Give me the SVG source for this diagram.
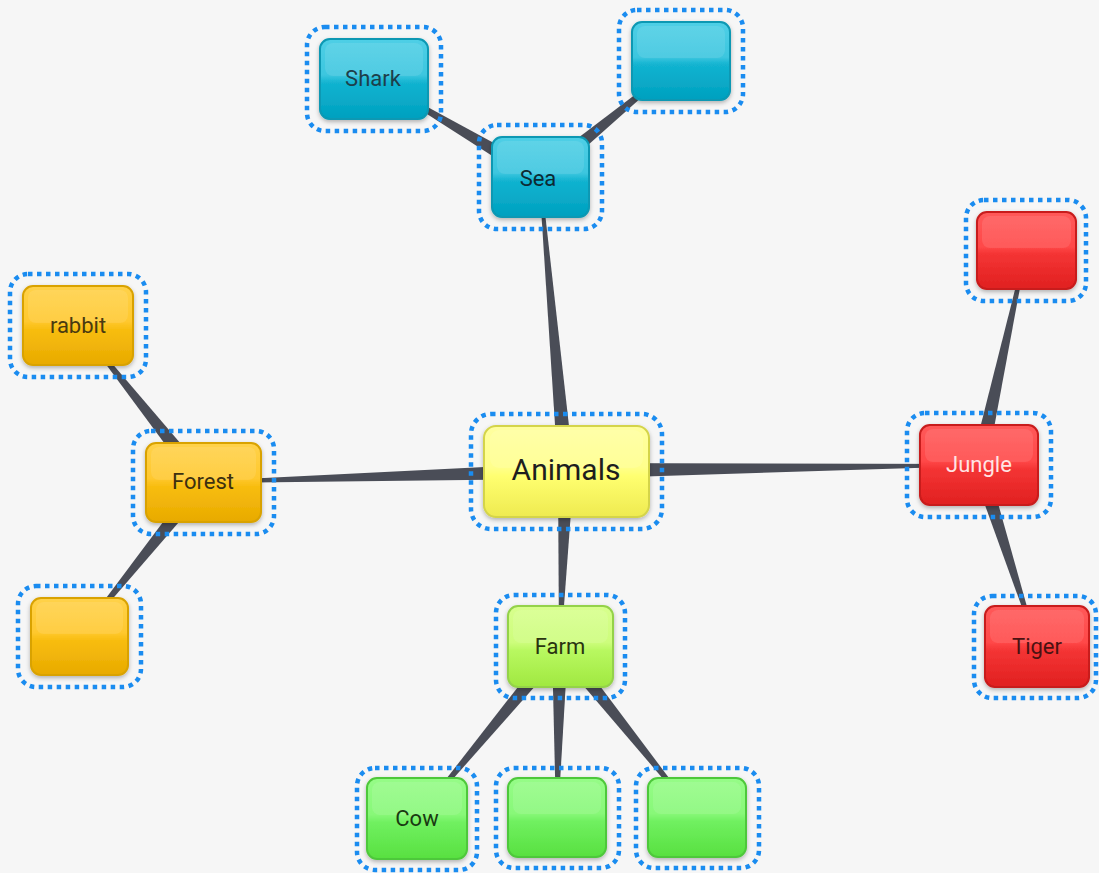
<svg xmlns="http://www.w3.org/2000/svg" width="1099" height="873" viewBox="0 0 1099 873">
<defs>
<style>
.dot{fill:none;stroke:#1a8cf0;stroke-width:4.5;stroke-dasharray:4.5 4.5}
.hl{fill:#ffffff;opacity:0.1}
.lbl{font-family:Roboto,"Liberation Sans",sans-serif;font-size:22px;text-anchor:middle}
.conn{fill:#4a4d57}
</style>
<filter id="sh" x="-20%" y="-20%" width="140%" height="150%"><feDropShadow dx="0" dy="2" stdDeviation="2" flood-color="#000" flood-opacity="0.28"/></filter>
<linearGradient id="gc" x1="0" y1="0" x2="0" y2="1"><stop offset="0" stop-color="#4fcfe6"/><stop offset="0.45" stop-color="#3cc6df"/><stop offset="0.55" stop-color="#12b3d0"/><stop offset="1" stop-color="#00a0bf"/></linearGradient>
<linearGradient id="gy" x1="0" y1="0" x2="0" y2="1"><stop offset="0" stop-color="#ffffa0"/><stop offset="0.45" stop-color="#ffff8c"/><stop offset="0.55" stop-color="#ffff70"/><stop offset="1" stop-color="#eeea50"/></linearGradient>
<linearGradient id="go" x1="0" y1="0" x2="0" y2="1"><stop offset="0" stop-color="#ffd24a"/><stop offset="0.45" stop-color="#ffc82e"/><stop offset="0.55" stop-color="#f8bd10"/><stop offset="1" stop-color="#e8aa00"/></linearGradient>
<linearGradient id="gr" x1="0" y1="0" x2="0" y2="1"><stop offset="0" stop-color="#ff5a5a"/><stop offset="0.45" stop-color="#ff4848"/><stop offset="0.55" stop-color="#f43434"/><stop offset="1" stop-color="#e02020"/></linearGradient>
<linearGradient id="gl" x1="0" y1="0" x2="0" y2="1"><stop offset="0" stop-color="#d8ff8e"/><stop offset="0.45" stop-color="#cdfd7c"/><stop offset="0.55" stop-color="#b8f860"/><stop offset="1" stop-color="#a0e840"/></linearGradient>
<linearGradient id="gg" x1="0" y1="0" x2="0" y2="1"><stop offset="0" stop-color="#96fc88"/><stop offset="0.45" stop-color="#88f878"/><stop offset="0.55" stop-color="#70f060"/><stop offset="1" stop-color="#58e040"/></linearGradient>
</defs>
<rect width="1099" height="873" fill="#f6f6f6"/>
<g id="connectors">
<polygon class="conn" points="573.97,470.30 541.0,176.91 539.0,177.09 558.03,471.70"/>
<polygon class="conn" points="565.76,463.0 202.97,481.0 203.03,483.0 566.24,479.0"/>
<polygon class="conn" points="566.12,479.0 979.01,466 978.99,464 565.88,463.0"/>
<polygon class="conn" points="558,470.73 559,645.97 561,646.03 574,471.27"/>
<polygon class="conn" points="544.07,170.11 374.51,78.14 373.49,79.86 535.93,183.89"/>
<polygon class="conn" points="545.08,183.18 681.64,61.77 680.36,60.23 534.92,170.82"/>
<polygon class="conn" points="209.26,477.02 78.78,324.38 77.22,325.62 196.74,486.98"/>
<polygon class="conn" points="196.77,476.98 78.22,635.37 79.78,636.63 209.23,487.02"/>
<polygon class="conn" points="986.82,466.71 1026.98,250.21 1025.02,249.79 971.18,463.29"/>
<polygon class="conn" points="971.38,467.44 1036.05,646.31 1037.95,645.69 986.62,462.56"/>
<polygon class="conn" points="553.85,640.89 416.23,817.36 417.77,818.64 566.15,651.11"/>
<polygon class="conn" points="552,645.86 556,816.98 558,817.02 568,646.14"/>
<polygon class="conn" points="553.76,651.0 696.22,817.63 697.78,816.37 566.24,641.0"/>
</g>
<g id="animals">
<rect class="dot" x="471" y="414" width="191" height="115" rx="20"/>
<rect x="484" y="426" width="165" height="91" rx="12" fill="url(#gy)" stroke="#d4d44a" stroke-width="2" filter="url(#sh)"/>
<rect class="hl" x="490" y="430" width="153" height="38" rx="9"/>
<text x="566" y="480" font-family="Roboto,'Liberation Sans',sans-serif" font-size="30" text-anchor="middle" fill="#1e1e1e">Animals</text>
</g>
<g id="sea">
<rect class="dot" x="479" y="125" width="123" height="104" rx="18"/>
<rect x="492" y="137" width="97" height="80" rx="10" fill="url(#gc)" stroke="#0898b3" stroke-width="2" filter="url(#sh)"/>
<rect class="hl" x="497" y="141" width="87" height="33" rx="8"/>
<text class="lbl" x="538" y="186" fill="#0d2a33">Sea</text>
</g>
<g id="shark">
<rect class="dot" x="307" y="27" width="134" height="104" rx="18"/>
<rect x="320" y="39" width="108" height="80" rx="10" fill="url(#gc)" stroke="#0898b3" stroke-width="2" filter="url(#sh)"/>
<rect class="hl" x="325" y="43" width="98" height="33" rx="8"/>
<text class="lbl" x="373" y="86" fill="#1d3f4a">Shark</text>
</g>
<g id="sea-child">
<rect class="dot" x="619" y="10" width="124" height="102" rx="18"/>
<rect x="632" y="22" width="98" height="78" rx="10" fill="url(#gc)" stroke="#0898b3" stroke-width="2" filter="url(#sh)"/>
<rect class="hl" x="637" y="26" width="88" height="32" rx="8"/>
</g>
<g id="forest">
<rect class="dot" x="133" y="431" width="141" height="103" rx="18"/>
<rect x="146" y="443" width="115" height="79" rx="10" fill="url(#go)" stroke="#d9a206" stroke-width="2" filter="url(#sh)"/>
<rect class="hl" x="151" y="447" width="105" height="33" rx="8"/>
<text class="lbl" x="203" y="489" fill="#3d3010">Forest</text>
</g>
<g id="rabbit">
<rect class="dot" x="10" y="274" width="136" height="103" rx="18"/>
<rect x="23" y="286" width="110" height="79" rx="10" fill="url(#go)" stroke="#d9a206" stroke-width="2" filter="url(#sh)"/>
<rect class="hl" x="28" y="290" width="100" height="33" rx="8"/>
<text class="lbl" x="78" y="333" fill="#4a3a10">rabbit</text>
</g>
<g id="forest-child">
<rect class="dot" x="18" y="586" width="123" height="101" rx="18"/>
<rect x="31" y="598" width="97" height="77" rx="10" fill="url(#go)" stroke="#d9a206" stroke-width="2" filter="url(#sh)"/>
<rect class="hl" x="36" y="602" width="87" height="32" rx="8"/>
</g>
<g id="jungle">
<rect class="dot" x="907" y="413" width="144" height="104" rx="18"/>
<rect x="920" y="425" width="118" height="80" rx="10" fill="url(#gr)" stroke="#c81a1a" stroke-width="2" filter="url(#sh)"/>
<rect class="hl" x="925" y="429" width="108" height="33" rx="8"/>
<text class="lbl" x="979" y="472" fill="#ffe4e4">Jungle</text>
</g>
<g id="jungle-child">
<rect class="dot" x="966" y="200" width="120" height="101" rx="18"/>
<rect x="977" y="212" width="99" height="77" rx="10" fill="url(#gr)" stroke="#c81a1a" stroke-width="2" filter="url(#sh)"/>
<rect class="hl" x="982" y="216" width="89" height="32" rx="8"/>
</g>
<g id="tiger">
<rect class="dot" x="974" y="596" width="122" height="102" rx="18"/>
<rect x="985" y="606" width="104" height="81" rx="10" fill="url(#gr)" stroke="#c81a1a" stroke-width="2" filter="url(#sh)"/>
<rect class="hl" x="990" y="610" width="94" height="33" rx="8"/>
<text class="lbl" x="1037" y="654" fill="#4a1212">Tiger</text>
</g>
<g id="farm">
<rect class="dot" x="496" y="595" width="129" height="103" rx="18"/>
<rect x="508" y="606" width="105" height="81" rx="10" fill="url(#gl)" stroke="#94d24a" stroke-width="2" filter="url(#sh)"/>
<rect class="hl" x="513" y="610" width="95" height="33" rx="8"/>
<text class="lbl" x="560" y="654" fill="#2a3410">Farm</text>
</g>
<g id="cow">
<rect class="dot" x="357" y="768" width="120" height="102" rx="18"/>
<rect x="367" y="778" width="100" height="81" rx="10" fill="url(#gg)" stroke="#4ec83a" stroke-width="2" filter="url(#sh)"/>
<rect class="hl" x="372" y="782" width="90" height="33" rx="8"/>
<text class="lbl" x="417" y="826" fill="#1a3a12">Cow</text>
</g>
<g id="farm-child-2">
<rect class="dot" x="496" y="768" width="123" height="100" rx="18"/>
<rect x="508" y="778" width="98" height="79" rx="10" fill="url(#gg)" stroke="#4ec83a" stroke-width="2" filter="url(#sh)"/>
<rect class="hl" x="513" y="782" width="88" height="32" rx="8"/>
</g>
<g id="farm-child-3">
<rect class="dot" x="636" y="768" width="123" height="100" rx="18"/>
<rect x="648" y="778" width="98" height="79" rx="10" fill="url(#gg)" stroke="#4ec83a" stroke-width="2" filter="url(#sh)"/>
<rect class="hl" x="653" y="782" width="88" height="32" rx="8"/>
</g>
</svg>
